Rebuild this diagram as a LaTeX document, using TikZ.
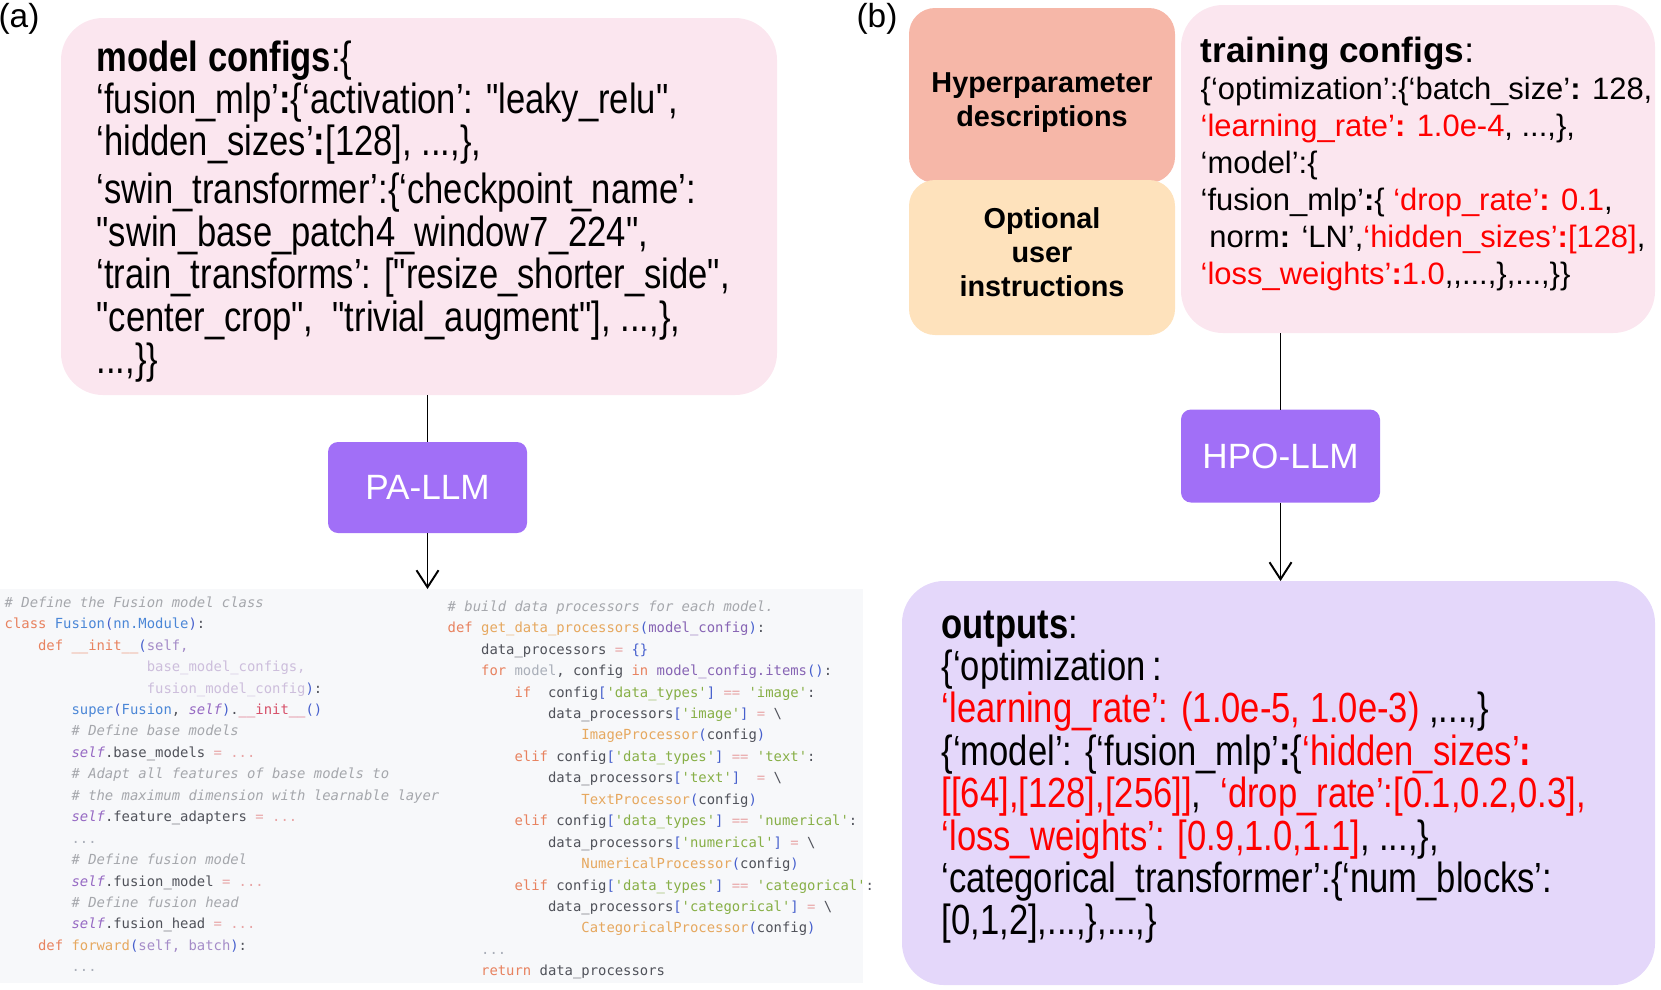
\documentclass[tikz,border=0pt]{standalone}
\usepackage{fontspec}
\setmainfont{Liberation Sans}
\setmonofont{DejaVu Sans Mono}
\newfontfamily\narrowfont{Liberation Sans}[FakeStretch=0.82]
\usepackage{xcolor}
\usepackage{tikz}
\usetikzlibrary{arrows.meta}

\definecolor{cfgpink}{RGB}{251,230,239}
\definecolor{hyperred}{RGB}{246,183,168}
\definecolor{optpeach}{RGB}{254,226,188}
\definecolor{outlav}{RGB}{228,215,250}
\definecolor{llmpurple}{RGB}{161,111,247}
\definecolor{hlred}{RGB}{255,0,0}
\definecolor{codebg}{RGB}{247,248,250}
\definecolor{codetxt}{RGB}{80,82,90}
\definecolor{codecom}{RGB}{165,167,172}
\definecolor{codekw}{RGB}{232,130,95}
\definecolor{codefn}{RGB}{230,168,95}
\definecolor{codecls}{RGB}{75,135,215}
\definecolor{codepn}{RGB}{70,95,205}
\definecolor{codeself}{RGB}{150,105,195}
\definecolor{codearg}{RGB}{165,140,200}
\definecolor{codeargl}{RGB}{205,190,220}
\definecolor{codestr}{RGB}{135,175,70}
\definecolor{codeop}{RGB}{232,165,165}
\definecolor{codemg}{RGB}{215,80,105}
\definecolor{codevr}{RGB}{135,100,180}
\definecolor{codegr}{RGB}{170,175,185}

% code colouring
\newcommand\ccm[1]{\textcolor{codecom}{\itshape #1}}
\newcommand\ckw[1]{\textcolor{codekw}{#1}}
\newcommand\cfn[1]{\textcolor{codefn}{#1}}
\newcommand\ccl[1]{\textcolor{codecls}{#1}}
\newcommand\cpn[1]{\textcolor{codepn}{#1}}
\newcommand\cslf[1]{\textcolor{codeself}{\itshape #1}}
\newcommand\carg[1]{\textcolor{codearg}{#1}}
\newcommand\cargl[1]{\textcolor{codeargl}{#1}}
\newcommand\cstr[1]{\textcolor{codestr}{#1}}
\newcommand\cop[1]{\textcolor{codeop}{#1}}
\newcommand\cmg[1]{\textcolor{codemg}{#1}}
\newcommand\cvr[1]{\textcolor{codevr}{#1}}
\newcommand\cgr[1]{\textcolor{codegr}{#1}}
\newcommand\cind[1]{\hspace*{#1\fontcharwd\font`0}}
\newcommand\hl[1]{\textcolor{hlred}{#1}}

\tikzset{
	cfgbox/.style={rounded corners=4.2mm, inner sep=0pt, outer sep=0pt, anchor=north west},
	promptbox/.style={rounded corners=2.6mm, inner sep=0pt, outer sep=0pt, anchor=north west},
	llmbox/.style={rounded corners=1mm, fill=llmpurple, text=white, inner sep=0pt, outer sep=0pt,
		font=\fontsize{10}{12}\selectfont},
	cfgtext/.style={anchor=north west, align=left, inner sep=0pt,
		font=\narrowfont\fontsize{12}{12.05}\selectfont},
	trntext/.style={anchor=north west, align=left, inner sep=0pt,
		font=\fontsize{8.8}{10.55}\selectfont},
	prompttext/.style={align=center, inner sep=0pt, font=\bfseries\fontsize{8.2}{9.7}\selectfont},
	codetext/.style={anchor=north west, align=left, inner sep=0pt, text=codetxt,
		font=\ttfamily\fontsize{3.95}{6.1}\selectfont},
	link/.style={line width=0.55pt, black},
	arrowtip/.style={-{Straight Barb[length=1.7mm, width=2.2mm]}}
}

\begin{document}
\begin{tikzpicture}
	\useasboundingbox (0,0) rectangle (16.61,-9.89);

	% panel labels
	\node[font=\fontsize{9.5}{11}\selectfont] (alabel) at (0.19,-0.19) {(a)};
	\node[font=\fontsize{9.5}{11}\selectfont] (blabel) at (8.77,-0.19) {(b)};

	% (a) model configs -> PA-LLM -> code
	\node[cfgbox, fill=cfgpink, minimum width=7.16cm, minimum height=3.77cm] (modelcfg) at (0.61,-0.18) {};
	\node[cfgtext] (modeltxt) at (0.96,-0.40) {%
		\textbf{model configs}:\{\\
		‘fusion\_mlp’\textbf{:}\{‘activation’: "leaky\_relu",\\
		‘hidden\_sizes’\textbf{:}[128], ...,\},\\[1.6pt]
		‘swin\_transformer’:\{‘checkpoint\_name’:\\
		"swin\_base\_patch4\_window7\_224",\\
		‘train\_transforms’: ["resize\_shorter\_side",\\
		"center\_crop",\ \ "trivial\_augment"], ...,\},\\
		...,\}\}};

	\node[llmbox, minimum width=1.99cm, minimum height=0.91cm] (pallm) at (4.275,-4.875) {PA-LLM};

	\node[fill=codebg, inner sep=0pt, outer sep=0pt, anchor=north west,
		minimum width=8.63cm, minimum height=3.94cm] (code) at (0,-5.89) {};

	\node[codetext] (leftcode) at (0.04,-5.96) {%
		\ccm{\# Define the Fusion model class}\\
		\ckw{class} \ccl{Fusion}\cpn{(}\ccl{nn.Module}\cpn{)}:\\
		\cind{4}\ckw{def} \ckw{\_\_init\_\_}\cpn{(}\carg{self,}\\
		\cind{17}\cargl{base\_model\_configs,}\\
		\cind{17}\cargl{fusion\_model\_config}\cpn{)}:\\
		\cind{8}\ccl{super}\cpn{(}\ccl{Fusion}, \cslf{self}\cpn{)}.\cmg{\_\_init\_\_}\cpn{()}\\
		\cind{8}\ccm{\# Define base models}\\
		\cind{8}\cslf{self}.base\_models \cop{= ...}\\
		\cind{8}\ccm{\# Adapt all features of base models to}\\
		\cind{8}\ccm{\# the maximum dimension with learnable layer}\\
		\cind{8}\cslf{self}.feature\_adapters \cop{= ...}\\
		\cind{8}\cgr{...}\\
		\cind{8}\ccm{\# Define fusion model}\\
		\cind{8}\cslf{self}.fusion\_model \cop{= ...}\\
		\cind{8}\ccm{\# Define fusion head}\\
		\cind{8}\cslf{self}.fusion\_head \cop{= ...}\\
		\cind{4}\ckw{def} \cfn{forward}\cpn{(}\carg{self, batch}\cpn{)}:\\
		\cind{8}\cgr{...}};

	\node[codetext] (rightcode) at (4.47,-6.00) {%
		\ccm{\# build data processors for each model.}\\
		\ckw{def} \cfn{get\_data\_processors}\cpn{(}\cvr{model\_config}\cpn{)}:\\
		\cind{4}data\_processors \cop{=} \cpn{\{\}}\\
		\cind{4}\ckw{for} \cgr{model}, config \ckw{in} \cvr{model\_config.items}\cpn{()}:\\
		\cind{8}\ckw{if}\cind{2}config\cpn{[}\cstr{'data\_types'}\cpn{]} \cop{==} \cstr{'image'}:\\
		\cind{12}data\_processors\cpn{[}\cstr{'image'}\cpn{]} \cop{=} \textbackslash\\
		\cind{16}\cfn{ImageProcessor}\cpn{(}config\cpn{)}\\
		\cind{8}\ckw{elif} config\cpn{[}\cstr{'data\_types'}\cpn{]} \cop{==} \cstr{'text'}:\\
		\cind{12}data\_processors\cpn{[}\cstr{'text'}\cpn{]}\cind{2}\cop{=} \textbackslash\\
		\cind{16}\cfn{TextProcessor}\cpn{(}config\cpn{)}\\
		\cind{8}\ckw{elif} config\cpn{[}\cstr{'data\_types'}\cpn{]} \cop{==} \cstr{'numerical'}:\\
		\cind{12}data\_processors\cpn{[}\cstr{'numerical'}\cpn{]} \cop{=} \textbackslash\\
		\cind{16}\cfn{NumericalProcessor}\cpn{(}config\cpn{)}\\
		\cind{8}\ckw{elif} config\cpn{[}\cstr{'data\_types'}\cpn{]} \cop{==} \cstr{'categorical'}:\\
		\cind{12}data\_processors\cpn{[}\cstr{'categorical'}\cpn{]} \cop{=} \textbackslash\\
		\cind{16}\cfn{CategoricalProcessor}\cpn{(}config\cpn{)}\\
		\cind{4}\cgr{...}\\
		\cind{4}\ckw{return} data\_processors};

	\draw[link] (modelcfg.south -| pallm) -- (pallm.north);
	\draw[link, arrowtip] (pallm.south) -- (pallm.south |- code.north);

	% (b) prompts + training configs -> HPO-LLM -> outputs
	\node[promptbox, fill=hyperred, minimum width=2.66cm, minimum height=1.75cm] (hyper) at (9.09,-0.08) {};
	\node[promptbox, fill=optpeach, minimum width=2.66cm, minimum height=1.55cm] (optional) at (9.09,-1.80) {};
	\node[prompttext] (hypertxt) at (10.42,-1.03) {Hyperparameter\\descriptions};
	\node[prompttext] (optionaltxt) at (10.42,-2.52) {Optional\\user\\instructions};

	\node[cfgbox, fill=cfgpink, minimum width=4.74cm, minimum height=3.28cm] (traincfg) at (11.81,-0.05) {};
	\node[trntext] (traintxt) at (12.00,-0.36) {%
		{\fontsize{10}{10.55}\selectfont\textbf{training configs}:}\\
		\{‘optimization’:\{‘batch\_size’\textbf{:} 128,\\
		\hl{‘learning\_rate’\textbf{:} 1.0e-4}, ...,\},\\
		‘model’:\{\\
		‘fusion\_mlp’\textbf{:}\{ \hl{‘drop\_rate’\textbf{:} 0.1},\\
		\ norm\textbf{:} ‘LN’,\hl{‘hidden\_sizes’\textbf{:}[128]},\\
		\hl{‘loss\_weights’\textbf{:}1.0},{},...,\},...,\}\}};

	\node[llmbox, minimum width=1.99cm, minimum height=0.93cm] (hpollm) at (12.805,-4.56) {HPO-LLM};

	\node[cfgbox, fill=outlav, minimum width=7.53cm, minimum height=4.04cm] (outputs) at (9.02,-5.81) {};
	\node[cfgtext] (outputstxt) at (9.41,-6.10) {%
		\textbf{outputs}:\\
		\{‘optimization\,:\\
		\hl{‘learning\_rate’: (1.0e-5, 1.0e-3)} ,...,\}\\
		\{‘model’: \{‘fusion\_mlp’\textbf{:}\{\hl{‘hidden\_sizes’\textbf{:}}\\
		\hl{[[64],[128],[256]]},\ \ \hl{‘drop\_rate’:[0.1,0.2,0.3],}\\
		\hl{‘loss\_weights’: [0.9,1.0,1.1]}, ...,\},\\
		‘categorical\_transformer’:\{‘num\_blocks’:\\
		{[0,1,2]},...,\},...,\}};

	\draw[link] (traincfg.south -| hpollm) -- (hpollm.north);
	\draw[link, arrowtip] (hpollm.south) -- (hpollm.south |- outputs.north);
\end{tikzpicture}
\end{document}
